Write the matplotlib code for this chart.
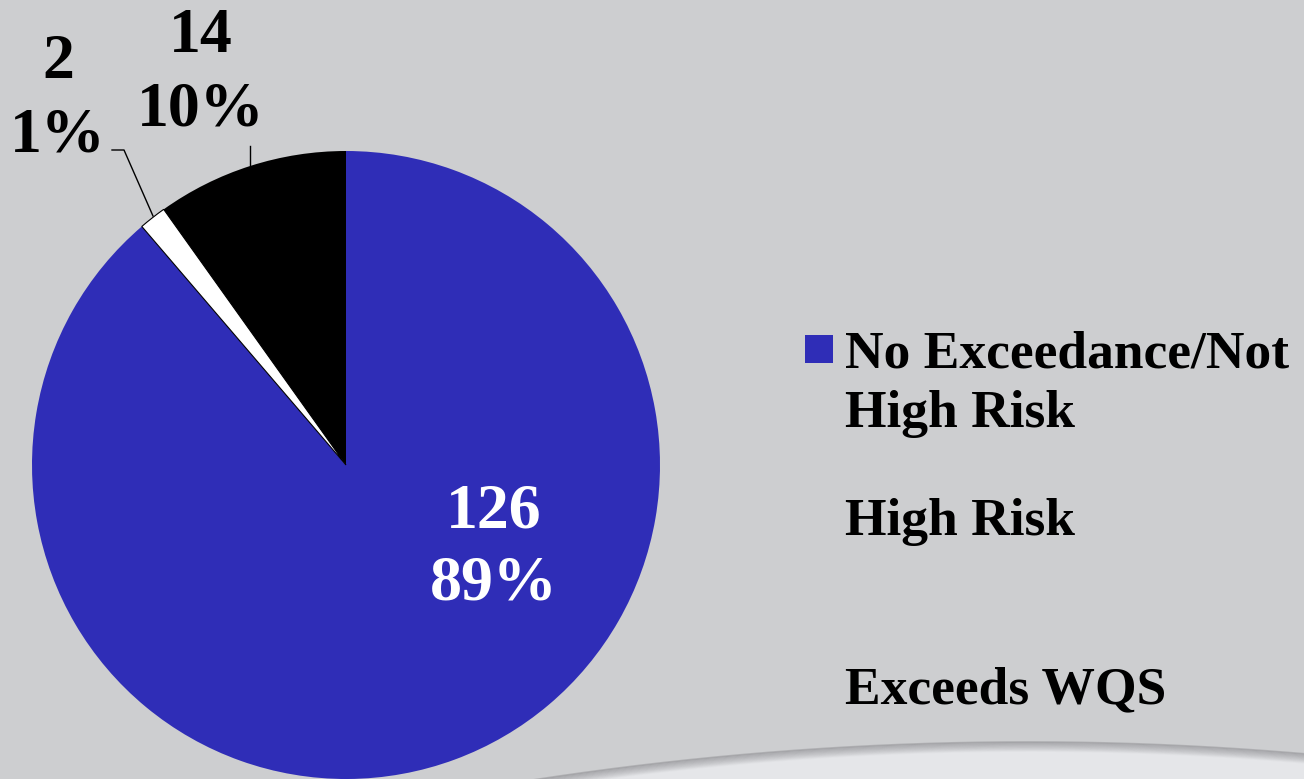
import numpy as np
import matplotlib
matplotlib.use("Agg")
import matplotlib.pyplot as plt
from matplotlib.patches import Rectangle

plt.rcParams['font.family'] = ['Liberation Serif', 'DejaVu Serif']
plt.rcParams['font.weight'] = 'bold'

# ---- data ----
categories = ["No Exceedance/Not\nHigh Risk", "High Risk", "Exceeds WQS"]
counts = [126, 2, 14]
colors = ["#2f2db7", "#ffffff", "#000000"]

W, H = 1304, 779
BG = "#cdced0"
fig = plt.figure(figsize=(W / 100, H / 100), dpi=100, facecolor=BG)
ax = fig.add_axes([0, 0, 1, 1])
ax.set_facecolor(BG)

def Y(py):
    return H - py

# decorative swoosh at bottom right
xs = np.linspace(500, W, 400)
ys = 742 + 1.55e-4 * (xs - 1028) ** 2
ax.fill_between(xs, [Y(v) for v in ys], -10, color="#e5e6e9", zorder=0, lw=0)
for i, a in enumerate(np.linspace(0.7, 0.0, 12)):
    ax.plot(xs, [Y(v) - i * 0.9 for v in ys], color="#88888c", alpha=a * 0.6, lw=1.3, zorder=0.5)

# pie
cx, cy, r = 346, Y(465), 314
wedges, _ = ax.pie(counts, colors=colors, startangle=90, counterclock=False,
                   center=(cx, cy), radius=r, frame=True,
                   wedgeprops=dict(linewidth=0))
wedges[1].set_edgecolor("#000000")
wedges[1].set_linewidth(0.8)

ax.set_xlim(0, W)
ax.set_ylim(0, H)
ax.set_aspect('auto')
ax.axis('off')

total = sum(counts)
pcts = [round(100 * c / total) for c in counts]

fs = 46
# label positions (px): (x, baseline1, baseline2, color)
label_pos = [(494, 528, 600, "white"), (58, 78, 151, "black"), (201, 52, 125, "black")]
for c, p, (lx, b1, b2, col) in zip(counts, pcts, label_pos):
    ax.text(lx, Y(b1), f"{c}", ha="center", va="baseline", fontsize=fs, color=col, fontweight="bold")
    ax.text(lx, Y(b2), f"{p}%", ha="center", va="baseline", fontsize=fs, color=col, fontweight="bold")

# leader lines
ax.plot([112, 124, 153], [Y(150), Y(150), Y(216)], color="black", lw=1.0)
ax.plot([250, 250], [Y(146), Y(165)], color="black", lw=1.0)

# legend
ax.add_patch(Rectangle((805, Y(363)), 28, 28, facecolor=colors[0], edgecolor="none"))
leg_baselines = [[367, 427], [535], [703]]
for cat, bl in zip(categories, leg_baselines):
    for line, b in zip(cat.split("\n"), bl):
        ax.text(845, Y(b), line, ha="left", va="baseline", fontsize=38.5, color="black", fontweight="bold")

fig.savefig("out.png", dpi=100, facecolor=BG)
